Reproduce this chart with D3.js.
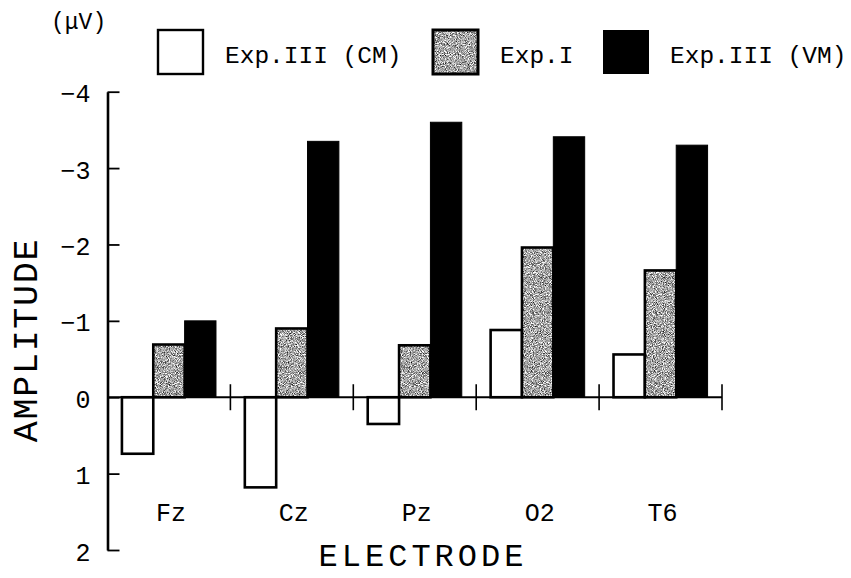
<!DOCTYPE html>
<html>
<head>
<meta charset="utf-8">
<script src="https://cdn.jsdelivr.net/npm/d3@7/dist/d3.min.js"></script>
<style>
  html, body { margin: 0; padding: 0; background: #fff; }
  svg { display: block; }
  text { font-family: "Liberation Mono", "Courier New", monospace; fill: #000; }
</style>
</head>
<body>
<svg id="chart" width="851" height="578"></svg>
<script>
// Electrode categories and mean amplitudes (µV) for each condition
const categories = ["Fz", "Cz", "Pz", "O2", "T6"];
const seriesNames = ["Exp.III (CM)", "Exp.I", "Exp.III (VM)"];
const cmValues   = [0.74, 1.18, 0.35, -0.88, -0.56];
const exp1Values = [-0.69, -0.90, -0.68, -1.96, -1.66];
const vmValues   = [-1.00, -3.35, -3.60, -3.41, -3.30];
const yTickValues = [-4, -3, -2, -1, 0, 1, 2];

const seriesValues = [cmValues, exp1Values, vmValues];

const svg = d3.select("#chart");
const defs = svg.append("defs");

// grainy stipple used for the Exp.I fill
const grain = defs.append("filter")
  .attr("id", "stipple")
  .attr("filterUnits", "objectBoundingBox")
  .attr("x", 0).attr("y", 0).attr("width", 1).attr("height", 1)
  .attr("color-interpolation-filters", "sRGB");
grain.append("feTurbulence")
  .attr("type", "fractalNoise")
  .attr("baseFrequency", 1.1)
  .attr("numOctaves", 2)
  .attr("seed", 5)
  .attr("result", "noise");
grain.append("feColorMatrix")
  .attr("in", "noise")
  .attr("type", "matrix")
  .attr("values", "1.7 0 0 0 -0.2  1.7 0 0 0 -0.2  1.7 0 0 0 -0.2  0 0 0 0 1");

// scales
const plotLeft = 107.5, plotRight = 722;
const y = d3.scaleLinear().domain([-4, 2]).range([91.7, 550]);
const x0 = d3.scaleBand().domain(categories).range([plotLeft, plotRight]).padding(0);
const x1 = d3.scaleBand().domain(seriesNames).range([0, x0.bandwidth()])
  .paddingInner(0).paddingOuter(0.46);

const rows = categories.map((c, i) => ({
  cat: c,
  vals: seriesNames.map((s, k) => ({ series: s, k, value: seriesValues[k][i] }))
}));

const barTop = d => Math.min(y(d.value), y(0));
const barH = d => Math.abs(y(d.value) - y(0));

const groups = svg.append("g").selectAll("g")
  .data(rows).join("g")
  .attr("transform", d => `translate(${x0(d.cat)},0)`);

groups.each(function (row) {
  const g = d3.select(this);
  row.vals.forEach(d => {
    const bx = x1(d.series), bw = x1.bandwidth();
    if (d.k === 0) {
      g.append("rect")
        .attr("x", bx).attr("y", barTop(d)).attr("width", bw).attr("height", barH(d))
        .attr("fill", "#fff").attr("stroke", "#000").attr("stroke-width", 2.6);
    } else if (d.k === 1) {
      g.append("rect")
        .attr("x", bx).attr("y", barTop(d)).attr("width", bw).attr("height", barH(d))
        .attr("fill", "#999").attr("filter", "url(#stipple)");
      g.append("rect")
        .attr("x", bx).attr("y", barTop(d)).attr("width", bw).attr("height", barH(d))
        .attr("fill", "none").attr("stroke", "#000").attr("stroke-width", 2.6);
    } else {
      g.append("rect")
        .attr("x", bx).attr("y", barTop(d)).attr("width", bw).attr("height", barH(d))
        .attr("fill", "#000").attr("stroke", "#000").attr("stroke-width", 1);
    }
  });
});

// zero line with group separators
const zeroY = y(0);
svg.append("line")
  .attr("x1", plotLeft).attr("x2", plotRight)
  .attr("y1", zeroY).attr("y2", zeroY)
  .attr("stroke", "#000").attr("stroke-width", 2.2);
const seps = categories.slice(1).map(c => x0(c)).concat([x0.range()[1]]);
svg.append("g").selectAll("line").data(seps).join("line")
  .attr("x1", d => d).attr("x2", d => d)
  .attr("y1", zeroY - 13).attr("y2", zeroY + 13)
  .attr("stroke", "#000").attr("stroke-width", 1.6);

// category labels
svg.append("g").selectAll("text").data(categories).join("text")
  .attr("x", d => x0(d) + x0.bandwidth() / 2 + 2)
  .attr("y", 521)
  .attr("text-anchor", "middle")
  .attr("font-size", 25)
  .text(d => d);

// amplitude axis: ticks point inward
const yAxis = d3.axisLeft(y)
  .tickValues(yTickValues)
  .tickSizeInner(-12)
  .tickSizeOuter(0)
  .tickPadding(17)
  .tickFormat(d => d < 0 ? "\u2212" + Math.abs(d) : String(d));
const ya = svg.append("g").attr("transform", `translate(${plotLeft},0)`).call(yAxis);
ya.select(".domain").attr("stroke", "#000").attr("stroke-width", 2.6);
ya.selectAll(".tick line").attr("stroke", "#000").attr("stroke-width", 1.8);
ya.selectAll(".tick text")
  .attr("font-family", "Liberation Mono, monospace")
  .attr("font-size", 25)
  .attr("dy", "0.4em")
  .attr("fill", "#000");

// axis titles
svg.append("text")
  .attr("transform", "translate(37,340) rotate(-90)")
  .attr("text-anchor", "middle")
  .attr("font-size", 35)
  .attr("letter-spacing", 1.7)
  .text("AMPLITUDE");

svg.append("text")
  .attr("x", 423).attr("y", 566)
  .attr("text-anchor", "middle")
  .attr("font-size", 32)
  .attr("letter-spacing", 4)
  .text("ELECTRODE");

svg.append("text")
  .attr("x", 51).attr("y", 29)
  .attr("font-size", 23)
  .text("(\u03bcV)");

// legend
const legendX = [158, 433, 603];
const legend = svg.append("g").selectAll("g").data(seriesNames).join("g")
  .attr("transform", (d, i) => `translate(${legendX[i]},30)`);
legend.each(function (name, i) {
  const g = d3.select(this);
  if (i === 0) {
    g.append("rect").attr("width", 45).attr("height", 44)
      .attr("fill", "#fff").attr("stroke", "#000").attr("stroke-width", 2.4);
  } else if (i === 1) {
    g.append("rect").attr("width", 45).attr("height", 44)
      .attr("fill", "#999").attr("filter", "url(#stipple)");
    g.append("rect").attr("width", 45).attr("height", 44)
      .attr("fill", "none").attr("stroke", "#000").attr("stroke-width", 3);
  } else {
    g.append("rect").attr("width", 46).attr("height", 44).attr("fill", "#000");
  }
  g.append("text")
    .attr("x", 67).attr("y", 33)
    .attr("font-size", 24.5)
    .text(name);
});
</script>
</body>
</html>
